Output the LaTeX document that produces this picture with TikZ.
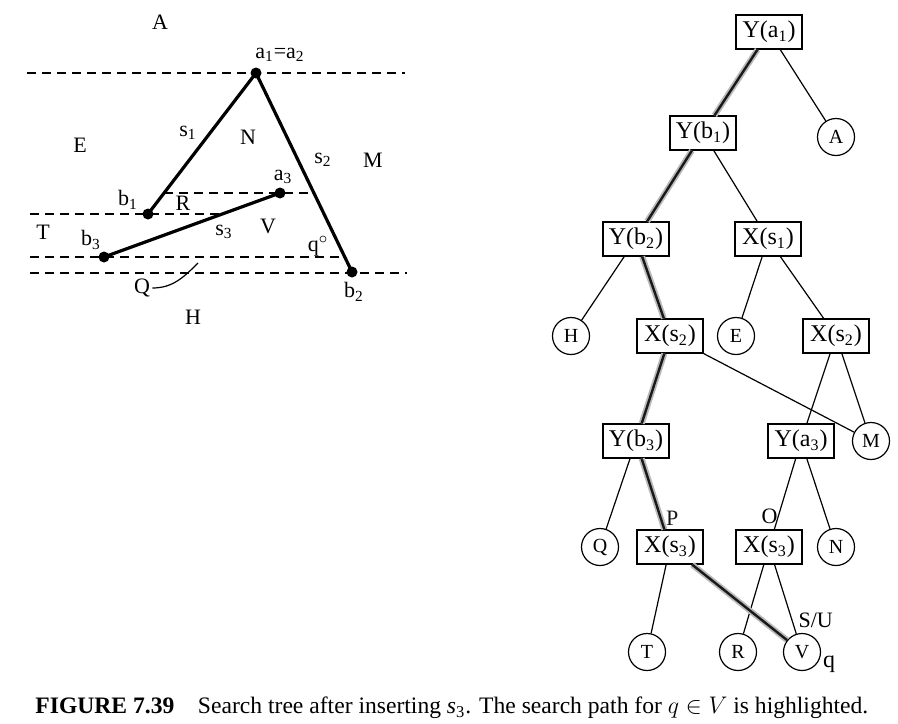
\documentclass[tikz,border=0pt]{standalone}
\usepackage{fontspec}
\setmainfont{Liberation Serif}
\tikzset{
  seg/.style={line width=1.6pt},
  sweep/.style={dash pattern=on 4.5pt off 3pt, line width=0.6pt},
  endpt/.style={circle, fill, inner sep=0pt, minimum size=5.5pt},
  lbl/.style={font=\fontsize{11}{12}\selectfont, inner sep=1pt},
  inner/.style={draw, line width=0.6pt, minimum width=33pt, minimum height=17pt,
    inner sep=1pt, font=\fontsize{12}{13}\selectfont},
  leaf/.style={draw, circle, line width=0.6pt, minimum size=18.5pt, inner sep=0pt,
    font=\fontsize{10}{11}\selectfont},
  link/.style={line width=0.6pt},
  hilite/.style={line width=1.2pt, black!90, preaction={draw, gray!55, line width=3pt}}
}
\begin{document}
\begin{tikzpicture}[x=0.5pt,y=-0.5pt]
  \useasboundingbox (0,0) rectangle (898,723);
  % trapezoidal map
  \begin{scope}
    \node[endpt] (a1) at (256,73) {};
    \node[endpt] (b1) at (148,214) {};
    \node[endpt] (a3) at (280,193) {};
    \node[endpt] (b3) at (104,257) {};
    \node[endpt] (b2) at (352,272) {};
    \draw[sweep] (27,73) -- (405,73);
    \draw[sweep] (164,193) -- (314,193);
    \draw[sweep] (30,214) -- (222,214);
    \draw[sweep] (30,257) -- (345,257);
    \draw[sweep] (30,273) -- (407,273);
    \draw[seg] (a1.center) -- (b1.center);
    \draw[seg] (a1.center) -- (b2.center);
    \draw[seg] (b3.center) -- (a3.center);
    \path (160,22) node[lbl] {A};
    \path (280,55) node[lbl] {a\textsubscript{1}=a\textsubscript{2}};
    \path (80,145) node[lbl] {E};
    \path (188,133) node[lbl] {s\textsubscript{1}};
    \path (248,137) node[lbl] {N};
    \path (323,160) node[lbl] {s\textsubscript{2}};
    \path (373,160) node[lbl] {M};
    \path (283,177) node[lbl] {a\textsubscript{3}};
    \path (128,200) node[lbl] {b\textsubscript{1}};
    \path (183,203) node[lbl] {R};
    \path (43,232) node[lbl] {T};
    \path (91,240) node[lbl] {b\textsubscript{3}};
    \path (224,232) node[lbl] {s\textsubscript{3}};
    \path (268,226) node[lbl] {V};
    \path (318,246) node[lbl] {q$^{\circ}$};
    \path (142,288) node[lbl] (qreg) {Q};
    \path (193,317) node[lbl] {H};
    \path (354,292) node[lbl] {b\textsubscript{2}};
    \coordinate (qgap) at (198,263);
    \draw[line width=0.6pt] (qreg.east) to[out=0,in=225] (qgap);
  \end{scope}
  % search structure
  \begin{scope}
    \node[inner] (ya1) at (769,32) {Y(a\textsubscript{1})};
    \node[inner] (yb1) at (703,133) {Y(b\textsubscript{1})};
    \node[leaf] (lA) at (836,137) {A};
    \node[inner] (yb2) at (636,239) {Y(b\textsubscript{2})};
    \node[inner] (xs1) at (768,239) {X(s\textsubscript{1})};
    \node[leaf] (lH) at (571,336) {H};
    \node[inner] (xs2a) at (670,336) {X(s\textsubscript{2})};
    \node[leaf] (lE) at (736,336) {E};
    \node[inner] (xs2b) at (836,336) {X(s\textsubscript{2})};
    \node[inner] (yb3) at (636,441) {Y(b\textsubscript{3})};
    \node[inner] (ya3) at (801,441) {Y(a\textsubscript{3})};
    \node[leaf] (lM) at (871,441) {M};
    \node[leaf] (lQ) at (600,547) {Q};
    \node[inner] (xs3a) at (670,547) {X(s\textsubscript{3})};
    \node[inner] (xs3b) at (769,547) {X(s\textsubscript{3})};
    \node[leaf] (lN) at (836,547) {N};
    \node[leaf] (lT) at (647,652) {T};
    \node[leaf] (lR) at (738,652) {R};
    \node[leaf] (lV) at (802,652) {V};
    \draw[link] (ya1) -- (lA);
    \draw[link] (yb1) -- (xs1);
    \draw[link] (yb2) -- (lH);
    \draw[link] (xs1) -- (lE);
    \draw[link] (xs1) -- (xs2b);
    \draw[link] (xs2a) -- (lM);
    \draw[link] (xs2b) -- (ya3);
    \draw[link] (xs2b) -- (lM);
    \draw[link] (yb3) -- (lQ);
    \draw[link] (ya3) -- node[lbl, pos=0.82, left=-1pt] {O} (xs3b);
    \draw[link] (ya3) -- (lN);
    \draw[link] (xs3a) -- (lT);
    \draw[link] (xs3b) -- (lR);
    \draw[link] (xs3b) -- node[lbl, pos=0.8, right=2pt] {S/U} (lV);
    \draw[hilite] (ya1) -- (yb1);
    \draw[hilite] (yb1) -- (yb2);
    \draw[hilite] (yb2) -- (xs2a);
    \draw[hilite] (xs2a) -- (yb3);
    \draw[hilite] (yb3) -- node[lbl, pos=0.85, right=1pt] {P} (xs3a);
    \draw[hilite] (xs3a) -- (lV);
    \path (829,664) node[lbl, font=\fontsize{12}{13}\selectfont] (qpt) {q};
  \end{scope}
  \node[anchor=west, inner sep=0pt, font=\fontsize{11.8}{13}\selectfont] (cap) at (35,708)
    {\textbf{FIGURE 7.39}\quad Search tree after inserting \textit{s}\textsubscript{3}.
     The search path for $q \in V$ is highlighted.};
\end{tikzpicture}
\end{document}
